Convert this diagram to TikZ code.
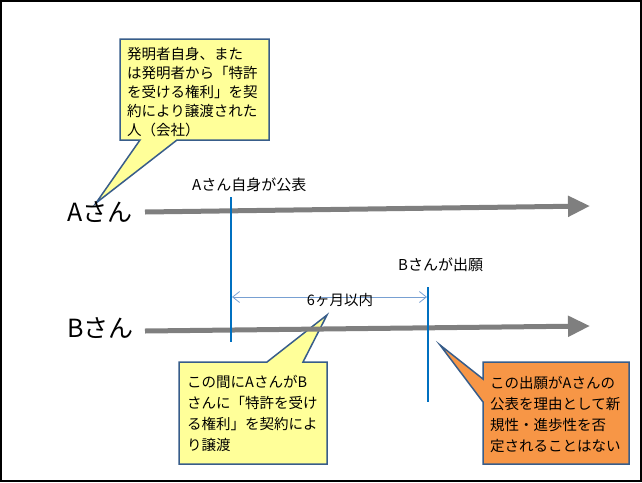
\documentclass[tikz,border=0pt]{standalone}
\usepackage{fontspec}
\setmainfont{Noto Sans CJK JP}
\usetikzlibrary{arrows.meta}
\definecolor{calloutborder}{RGB}{56,93,138}
\definecolor{noteyellow}{RGB}{255,255,153}
\definecolor{noteorange}{RGB}{247,150,70}
\definecolor{timeline}{RGB}{127,127,127}
\definecolor{eventblue}{RGB}{0,112,192}
\definecolor{spanblue}{RGB}{120,160,210}
\tikzset{
  callout/.style={draw=calloutborder, line width=1.5pt, line join=miter},
  notetext/.style={inner sep=0pt, align=left, anchor=north west, font=\fontsize{14.5}{21}\selectfont},
  person/.style={inner sep=0pt, anchor=west, font=\fontsize{25}{28}\selectfont},
  eventlabel/.style={inner sep=0pt, anchor=west, font=\fontsize{15}{18}\selectfont},
  timearrow/.style={draw=timeline, line width=5pt, -{Triangle[length=22pt,width=20pt]}},
  eventline/.style={draw=eventblue, line width=2pt},
  spanline/.style={draw=spanblue, line width=0.8pt, {Straight Barb[length=7pt,width=11pt]}-{Straight Barb[length=7pt,width=11pt]}}
}
\begin{document}
\begin{tikzpicture}[x=1pt,y=-1pt]
\useasboundingbox (0,0) rectangle (642,482);
\draw[line width=2pt] (1,1) rectangle (641,481);

% callouts
\draw[callout, fill=noteyellow] (120,39) -- (269,39) -- (269,140) -- (177,140) -- (96,203) -- (140,140) -- (120,140) -- cycle;
\draw[callout, fill=noteyellow] (179,362) -- (267,362) -- (327,315) -- (303,362) -- (327,362) -- (327,464) -- (179,464) -- cycle;
\draw[callout, fill=noteorange] (483,362) -- (629,362) -- (629,464) -- (483,464) -- (483,402) -- (440,345) -- (483,379) -- cycle;

\node[notetext, font=\fontsize{14.5}{19}\selectfont] (n1) at (127,47) {発明者自身、また\\は発明者から「特許\\を受ける権利」を契\\約により譲渡された\\人（会社）};
\node[notetext] (n2) at (187,375) {この間にAさんがB\\さんに「特許を受け\\る権利」を契約によ\\り譲渡};
\node[notetext] (n3) at (490,376) {この出願がAさんの\\公表を理由として新\\規性・進歩性を否\\定されることはない};

% persons and timelines
\node[person] (pa) at (67,212) {Aさん};
\node[person] (pb) at (67,328) {Bさん};
\coordinate (aS) at (145,212);
\coordinate (aE) at (590,206);
\coordinate (bS) at (145,331);
\coordinate (bE) at (590,326);
\draw[timearrow] (aS) -- (aE);
\draw[timearrow] (bS) -- (bE);

% events
\coordinate (e1t) at (231,197);
\coordinate (e1b) at (231,342);
\coordinate (e2t) at (428,287);
\coordinate (e2b) at (428,402);
\draw[eventline] (e1t) -- (e1b);
\draw[eventline] (e2t) -- (e2b);
\node[eventlabel] (l1) at (192,185) {Aさん自身が公表};
\node[eventlabel] (l2) at (398,265) {Bさんが出願};

\coordinate (s1) at (232,297);
\coordinate (s2) at (427,297);
\draw[spanline] (s1) -- (s2);
\node[eventlabel, anchor=center, font=\fontsize{14.5}{17}\selectfont] (span) at (340,300) {6ヶ月以内};
\end{tikzpicture}
\end{document}
